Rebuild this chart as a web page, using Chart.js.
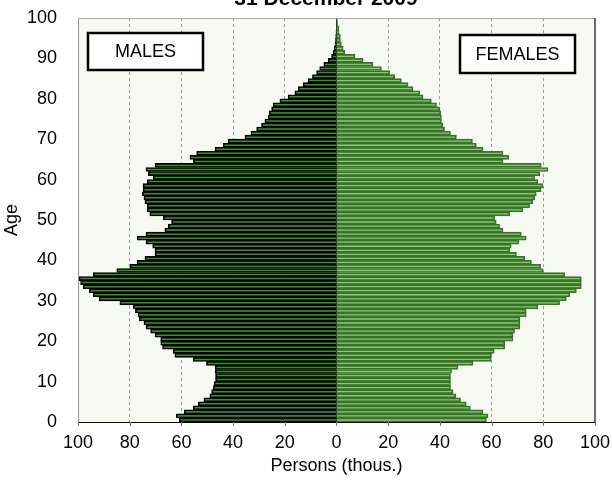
<!DOCTYPE html>
<html><head><meta charset="utf-8">
<script src="https://cdn.jsdelivr.net/npm/chart.js@4.4.1/dist/chart.umd.min.js"></script>
<style>html,body{margin:0;padding:0;background:#fff}#wrap{width:612px;height:486px;position:relative}</style>
</head><body><div id="wrap"><canvas id="c" width="612" height="486"></canvas></div>
<script>
const titleText = '31 December 2009';
const xTitle = 'Persons (thous.)';
const yTitle = 'Age';
const maleLabel = 'MALES';
const femaleLabel = 'FEMALES';
const ages = [0,1,2,3,4,5,6,7,8,9,10,11,12,13,14,15,16,17,18,19,20,21,22,23,24,25,26,27,28,29,30,31,32,33,34,35,36,37,38,39,40,41,42,43,44,45,46,47,48,49,50,51,52,53,54,55,56,57,58,59,60,61,62,63,64,65,66,67,68,69,70,71,72,73,74,75,76,77,78,79,80,81,82,83,84,85,86,87,88,89,90,91,92,93,94,95,96,97,98,99];
const males = [60.8,62.0,58.9,55.4,53.5,51.3,49.0,48.3,47.7,47.3,46.8,46.8,46.9,46.9,50.3,55.4,62.5,63.2,67.3,68.0,68.0,70.2,71.9,73.7,74.5,76.3,76.8,77.8,78.6,83.8,91.8,94.1,95.6,98.0,99.0,99.6,94.1,85.0,79.9,77.1,74.1,70.2,70.2,71.1,73.7,77.1,73.7,66.4,65.1,63.8,67.0,72.2,73.2,73.2,74.1,74.5,75.1,74.8,74.8,73.2,70.9,72.8,73.7,70.2,55.4,56.7,54.1,47.0,43.8,41.9,35.4,33.1,30.9,29.0,27.7,26.4,26.0,25.1,24.5,21.9,18.7,16.1,14.8,12.9,11.0,9.3,7.7,6.5,4.9,3.2,1.9,1.3,0.9,0.6,0.4,0.3,0.2,0.1,0.1,0.05];
const females = [58.0,58.6,56.7,51.8,50.2,48.0,46.1,45.1,44.1,44.1,44.1,44.1,44.5,47.0,52.8,59.9,59.9,61.0,65.1,65.1,68.3,68.3,68.9,70.9,70.9,70.9,73.4,73.4,77.9,86.3,88.9,90.2,92.8,94.7,94.7,94.7,88.3,79.9,79.0,75.4,72.8,69.6,67.0,67.6,70.6,73.4,71.5,64.4,63.1,61.8,61.2,67.0,72.1,74.7,76.0,76.7,77.3,79.2,79.9,77.9,76.7,78.6,81.8,79.2,64.4,66.6,64.4,56.7,54.1,52.6,46.4,44.1,41.8,41.2,40.6,40.6,40.3,40.0,38.7,36.7,33.5,32.2,29.6,27.7,25.1,22.5,20.6,17.4,14.1,10.3,7.1,3.2,2.6,1.9,1.5,1.5,1.0,1.0,0.5,0.4];
const xTicks = [-100,-80,-60,-40,-20,0,20,40,60,80,100];
const yTicks = [0,10,20,30,40,50,60,70,80,90,100];

const FONT = "'Liberation Sans', Arial, Helvetica, sans-serif";

// each age group occupies the band [age, age+1) on the linear age axis
const maleData = ages.map((a, i) => ({ x: -males[i], y: a + 0.5 }));
const femaleData = ages.map((a, i) => ({ x: females[i], y: a + 0.5 }));

const decor = {
  id: 'decor',
  beforeDraw(chart) {
    const { ctx, chartArea: a } = chart;
    ctx.save();
    ctx.fillStyle = '#f5f9f2';
    ctx.fillRect(a.left, a.top, a.right - a.left, a.bottom - a.top);
    ctx.restore();
  },
  afterDatasetsDraw(chart) {
    const { ctx, chartArea: a, scales } = chart;
    const x0 = Math.round(scales.x.getPixelForValue(0)) + 0.5;
    ctx.save();
    ctx.strokeStyle = '#3a3a3a';
    ctx.lineWidth = 1;
    ctx.beginPath(); ctx.moveTo(x0, a.top); ctx.lineTo(x0, a.bottom); ctx.stroke();
    ctx.strokeStyle = '#a8a8a8';
    ctx.beginPath(); ctx.moveTo(a.left, a.top + 0.5); ctx.lineTo(a.right, a.top + 0.5); ctx.stroke();
    ctx.strokeStyle = '#3a3a3a';
    ctx.lineWidth = 1.5;
    ctx.beginPath(); ctx.moveTo(a.right, a.top); ctx.lineTo(a.right, a.bottom); ctx.stroke();
    // x tick marks
    ctx.strokeStyle = '#7a7a7a';
    ctx.lineWidth = 1;
    xTicks.forEach(v => {
      const px = Math.round(scales.x.getPixelForValue(v)) + 0.5;
      ctx.beginPath(); ctx.moveTo(px, a.bottom); ctx.lineTo(px, a.bottom + 4); ctx.stroke();
    });
    ctx.restore();
  },
  afterDraw(chart) {
    const { ctx, chartArea: a } = chart;
    ctx.save();
    ctx.fillStyle = '#000';
    ctx.font = 'bold 21px ' + FONT;
    ctx.textAlign = 'center';
    ctx.textBaseline = 'alphabetic';
    ctx.fillText(titleText, 326, 5);
    const box = (x, y, w, h, t) => {
      ctx.fillStyle = '#fff';
      ctx.fillRect(x, y, w, h);
      ctx.strokeStyle = '#000';
      ctx.lineWidth = 2.5;
      ctx.strokeRect(x, y, w, h);
      ctx.fillStyle = '#000';
      ctx.font = '18px ' + FONT;
      ctx.textAlign = 'center';
      ctx.textBaseline = 'middle';
      ctx.fillText(t, x + w / 2, y + h / 2 + 1);
    };
    box(a.left + 10, 33, 115, 37, maleLabel);
    box(a.left + 382, 35, 115, 38, femaleLabel);
    ctx.restore();
  }
};

new Chart(document.getElementById('c'), {
  type: 'bar',
  data: {
    datasets: [
      { label: 'Males', data: maleData, backgroundColor: '#3f8d2f', borderColor: '#000000', borderWidth: 1.6, grouped: false, barPercentage: 1, categoryPercentage: 1 },
      { label: 'Females', data: femaleData, backgroundColor: '#8cc47a', borderColor: '#387526', borderWidth: 1.7, grouped: false, barPercentage: 1, categoryPercentage: 1 }
    ]
  },
  options: {
    indexAxis: 'y',
    responsive: false,
    animation: false,
    devicePixelRatio: 1,
    layout: { padding: { top: 18, right: 17, left: 0, bottom: 0 } },
    plugins: { legend: { display: false }, tooltip: { enabled: false }, title: { display: false } },
    scales: {
      x: {
        type: 'linear', min: -100, max: 100,
        afterFit(s) { s.height = 64; },
        afterBuildTicks(s) { s.ticks = xTicks.map(v => ({ value: v })); },
        ticks: { callback: v => String(Math.abs(v)), color: '#000', font: { family: FONT, size: 18 }, padding: 2, maxRotation: 0, autoSkip: false },
        grid: {
          color: c => (c.tick && (Math.abs(c.tick.value) === 100 || c.tick.value === 0)) ? 'rgba(0,0,0,0)' : '#9c9c9c',
          tickColor: 'rgba(0,0,0,0)', tickLength: 8, lineWidth: 1
        },
        border: { color: '#000', width: 1, dash: [3, 3] },
        title: { display: true, text: xTitle, color: '#000', font: { family: FONT, size: 18 }, padding: { top: 0, bottom: 9 } }
      },
      y: {
        type: 'linear', min: 0, max: 100, offset: false,
        afterFit(s) { s.width = 78; },
        afterBuildTicks(s) { s.ticks = yTicks.map(v => ({ value: v })); },
        ticks: { color: '#000', font: { family: FONT, size: 18 }, padding: 3, autoSkip: false },
        grid: { display: false, drawTicks: true, tickLength: 18, offset: false },
        border: { display: true, color: '#999', width: 1 },
        title: { display: true, text: yTitle, color: '#000', font: { family: FONT, size: 18 }, padding: { top: 1, bottom: 0 } }
      }
    }
  },
  plugins: [decor]
});
</script></body></html>
